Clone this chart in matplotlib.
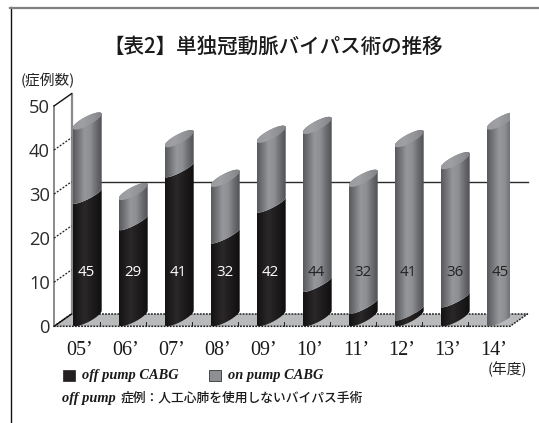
import numpy as np
import matplotlib
matplotlib.use('Agg')
import matplotlib.pyplot as plt
from matplotlib.patches import PathPatch, Polygon, Rectangle
from matplotlib.path import Path
from matplotlib.lines import Line2D
from matplotlib.colors import LinearSegmentedColormap

years = ["05’", "06’", "07’", "08’", "09’", "10’", "11’", "12’", "13’", "14’"]
off_pump = [28, 22, 34, 19, 26, 8, 3, 1.5, 4.5, 0]
on_pump = [17, 7, 7, 13, 16, 36, 29, 39.5, 31.5, 45]
y_ticks = [0, 10, 20, 30, 40, 50]

W, H = 539, 423
CJK = ['Noto Sans CJK JP', 'DejaVu Sans']
fig = plt.figure(figsize=(W / 100, H / 100), dpi=100, facecolor='white')

# plot box in pixels
L, R, T, B = 54, 510, 106, 326.3
ax = fig.add_axes([L / W, 1 - B / H, (R - L) / W, (B - T) / H])
ax.set_xlim(0, 10)
ax.set_ylim(0, 50)
ax.patch.set_visible(False)
for s in ax.spines.values():
    s.set_visible(False)

px = 10 / (R - L)       # data x per pixel
py = 50 / (B - T)       # data y per pixel
dx, dy = 17.5 * px, 12.3 * py   # depth
bar_w = 29 * px
step = 46 * px
first = 18.7 * px
rise = 14 * py          # height difference of the sloping ellipse
thick = 5 * py
thick_split = 3.6 * py

cmap_on = LinearSegmentedColormap.from_list('on', ['#58595d', '#76777b', '#96979b', '#8e8f93', '#6c6d71', '#505155'])
cmap_off = LinearSegmentedColormap.from_list('off', ['#141213', '#201d1e', '#2b2829', '#221f20', '#1a1718', '#0f0e0e'])
cmap_top = LinearSegmentedColormap.from_list('top', ['#9a9b9f', '#9fa0a4', '#939498', '#828387'])
grad = np.linspace(0, 1, 128).reshape(1, -1)


def arc(x0, v, t0, t1, th, n=40):
    t = np.linspace(t0, t1, n)
    xs = x0 + bar_w / 2 * (1 - np.cos(t))
    ys = v + rise / 2 * (1 - np.cos(t)) + th * np.sin(t)
    return np.column_stack([xs, ys])


def upper(x0, v, th=thick):
    return arc(x0, v, 0, np.pi, th)


def lower(x0, v, th=thick):
    return arc(x0, v, 0, -np.pi, th)


def draw_grad(x0, verts, cmap, z):
    im = ax.imshow(grad, extent=[x0, x0 + bar_w, -2, 52], aspect='auto', cmap=cmap,
                   zorder=z, interpolation='bilinear')
    p = PathPatch(Path(np.vstack([verts, verts[:1]])), transform=ax.transData, fc='none', ec='none')
    ax.add_patch(p)
    im.set_clip_path(p)


# back wall line, floor, axes frame
ax.plot([dx, 10 + dx], [30 + dy, 30 + dy], color='#2a2a2a', lw=1.0, clip_on=False, zorder=1)
floor = [(0, 0), (dx, dy), (10 + dx, dy), (10, 0)]
ax.add_patch(Polygon(floor, closed=True, fc='#b9babc', ec='none', clip_on=False, zorder=1))
fx, fy = zip(*(floor + floor[:1]))
ax.plot(fx, fy, color='#222222', lw=1.1, ls=(0, (1.2, 0.8)), clip_on=False, zorder=2)
ax.plot([0, 0], [0, 50], color='#777777', lw=1.2, clip_on=False, zorder=2)
ax.plot([dx, dx], [dy, 50 + dy], color='#8a8a8a', lw=1.6, clip_on=False, zorder=2)
ax.plot([0, dx], [50, 50 + dy], color='#111111', lw=1.0, clip_on=False, zorder=2)
ax.plot([0, dx], [0, dy], color='#111111', lw=1.0, clip_on=False, zorder=2)
for v in y_ticks[1:-1]:
    ax.plot([0, dx], [v, v + dy], color='#222222', lw=0.9, ls=(0, (1.6, 1.2)), clip_on=False, zorder=2)
for i in range(1, 10):
    ax.plot([i * step] * 2, [0, 1], color='#222222', lw=0.7, clip_on=False, zorder=2)

# cylinders
for i, (off, on) in enumerate(zip(off_pump, on_pump)):
    x0 = first + i * step
    total = off + on
    bottom = lower(x0, 0.4)
    if off > 0:
        verts = np.vstack([bottom, lower(x0, off, thick_split)[::-1]])
        draw_grad(x0, verts, cmap_off, 3)
    base = lower(x0, off, thick_split) if off > 0 else bottom
    verts = np.vstack([base, upper(x0, total)[::-1]])
    draw_grad(x0, verts, cmap_on, 4)
    cap = np.vstack([upper(x0, total), lower(x0, total)[::-1]])
    draw_grad(x0, cap, cmap_top, 5)
    in_dark = off > 12.5
    ax.text(x0 + bar_w * 0.48, 12.3, f'{total:g}', ha='center', va='center', fontsize=10.8,
            family='Open Sans', color='white' if in_dark else '#222222', zorder=6)

ax.set_xticks([first + i * step + bar_w * 0.25 for i in range(len(years))])
ax.set_xticklabels(years, family='Liberation Serif', fontsize=14.5, color='#1a1a1a')
ax.tick_params(axis='x', length=0, pad=10.5)
ax.set_yticks(y_ticks)
ax.set_yticklabels([str(v) for v in y_ticks], family='Open Sans', fontsize=13.2, color='#2a2a2a')
ax.tick_params(axis='y', length=0, pad=3)
ax.set_xlim(0, 10)
ax.set_ylim(0, 50)


def T_(xp, yp, s, **kw):
    fig.text(xp / W, 1 - yp / H, s, va='center', **kw)


T_(273, 48, '【表2】単独冠動脈バイパス術の推移', ha='center', family=CJK, fontsize=14.8, weight='medium', color='#1a1a1a')
T_(21, 81, '(症例数)', ha='left', family=CJK, fontsize=10.6, color='#222222')
T_(488, 369, '(年度)', ha='left', family=CJK, fontsize=10.6, color='#222222')

fig.add_artist(Rectangle((63 / W, 1 - 380.5 / H), 12 / W, 11 / H, transform=fig.transFigure, fc='#231f20', ec='#231f20', lw=0.5))
fig.add_artist(Rectangle((209 / W, 1 - 380.5 / H), 12 / W, 11 / H, transform=fig.transFigure, fc='#8e8f93', ec='#333333', lw=0.6))
T_(82, 375, 'off pump CABG', ha='left', family='Liberation Serif', style='italic', weight='bold', fontsize=10.4, color='#1a1a1a')
T_(228, 375, 'on pump CABG', ha='left', family='Liberation Serif', style='italic', weight='bold', fontsize=10.4, color='#1a1a1a')
T_(62, 398, 'off pump', ha='left', family='Liberation Serif', style='italic', weight='bold', fontsize=10.4, color='#1a1a1a')
T_(121, 398, '症例：人工心肺を使用しないバイパス手術', ha='left', family=CJK, fontsize=9.2, weight='medium', color='#1a1a1a')

# outer frame
fig.add_artist(Line2D([10.5 / W, 10.5 / W], [0, 1 - 7.5 / H], color='#111111', lw=1.0))
fig.add_artist(Line2D([10 / W, 1], [1 - 8 / H, 1 - 8 / H], color='#808080', lw=1.6))

fig.savefig('out.png', dpi=100)
